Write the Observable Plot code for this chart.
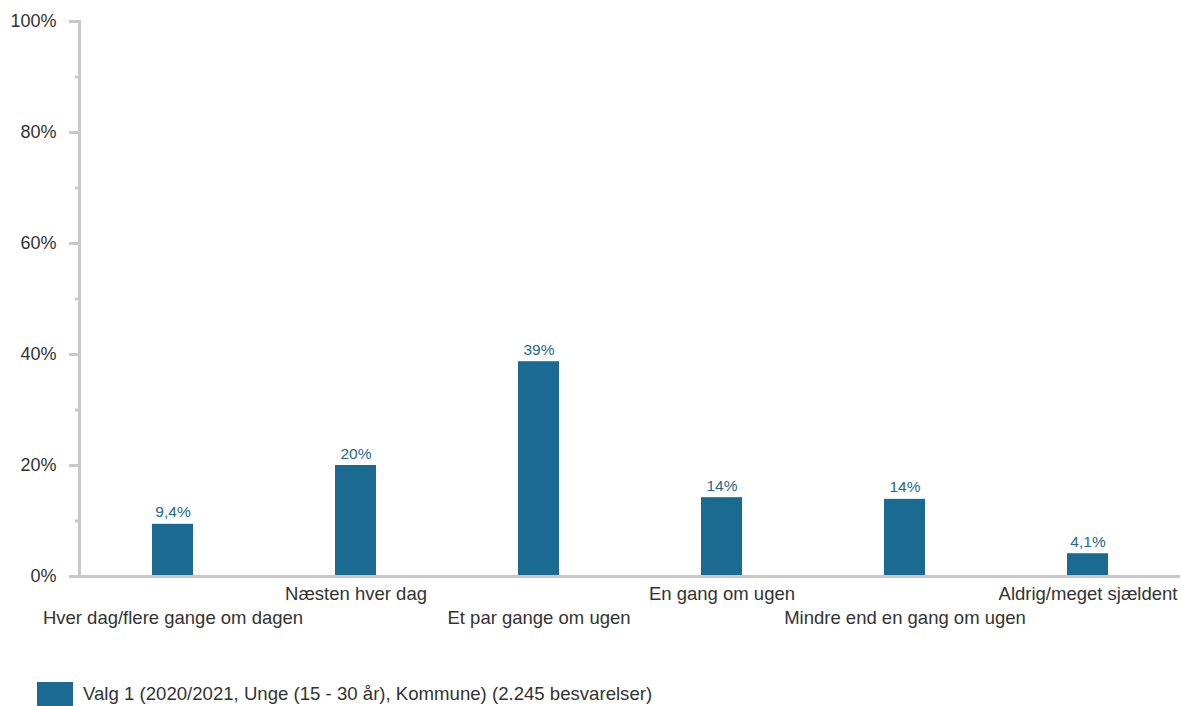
<!DOCTYPE html>
<html>
<head>
<meta charset="utf-8">
<script src="https://cdn.jsdelivr.net/npm/d3@7"></script>
<script src="https://cdn.jsdelivr.net/npm/@observablehq/plot@0.6"></script>
<style>
  html, body { margin: 0; padding: 0; background: #fff; }
  body { width: 1181px; height: 706px; overflow: hidden; font-family: "Liberation Sans", Arial, sans-serif; }
  #legend { display: flex; align-items: center; margin-left: 37px; margin-top: 32px; font-size: 18.6px; color: #333; }
  #legend .sw { width: 36px; height: 24px; background: #1b6a92; margin-right: 10px; }
</style>
</head>
<body>
<div id="chart"></div>
<div id="legend"><div class="sw"></div><span id="legend-text"></span></div>
<script>
const categories = [
  "Hver dag/flere gange om dagen",
  "Næsten hver dag",
  "Et par gange om ugen",
  "En gang om ugen",
  "Mindre end en gang om ugen",
  "Aldrig/meget sjældent"
];
const values = [9.4, 20.0, 38.7, 14.2, 13.9, 4.1];
const valueLabels = ["9,4%", "20%", "39%", "14%", "14%", "4,1%"];
const majorTicks = [0, 20, 40, 60, 80, 100];
const minorTicks = [10, 30, 50, 70, 90];
const seriesName = "Valg 1 (2020/2021, Unge (15 - 30 år), Kommune) (2.245 besvarelser)";

const data = categories.map((c, i) => ({category: c, value: values[i], label: valueLabels[i]}));
const rowTop = categories.filter((c, i) => i % 2 === 1);
const rowBottom = categories.filter((c, i) => i % 2 === 0);

const barColor = "#1b6a92";
const axisColor = "#c8c8c8";
const textColor = "#333333";

const chart = Plot.plot({
  width: 1181,
  height: 650,
  marginTop: 21,
  marginBottom: 74,
  marginLeft: 79,
  marginRight: 1,
  style: {fontFamily: "Liberation Sans, Arial, sans-serif", background: "#fff"},
  x: {domain: categories, paddingInner: 0.777, paddingOuter: 0.3885, axis: null},
  y: {domain: [0, 100], axis: null},
  marks: [
    Plot.barY(data, {x: "category", y: "value", fill: barColor}),
    Plot.ruleY([0], {stroke: axisColor, strokeWidth: 3}),
    Plot.frame({anchor: "left", stroke: axisColor, strokeWidth: 3}),
    Plot.axisY({ticks: majorTicks, tickSize: 10, tickPadding: 13, stroke: axisColor, strokeWidth: 3,
      fill: textColor, fontSize: 18, tickFormat: d => d + "%", label: null}),
    Plot.axisY({ticks: minorTicks, tickSize: 4, stroke: axisColor, strokeWidth: 3, text: null, label: null}),
    Plot.axisX({ticks: rowTop, tickSize: 0, tickPadding: 10, fill: textColor, fontSize: 18.5, label: null}),
    Plot.axisX({ticks: rowBottom, tickSize: 0, tickPadding: 34, fill: textColor, fontSize: 18.5, label: null}),
    Plot.text(data, {x: "category", y: "value", text: "label", lineAnchor: "bottom", dy: -7,
      fill: "#24688f", fontSize: 15.5})
  ]
});
document.getElementById("chart").appendChild(chart);
document.getElementById("legend-text").textContent = seriesName;
</script>
</body>
</html>
